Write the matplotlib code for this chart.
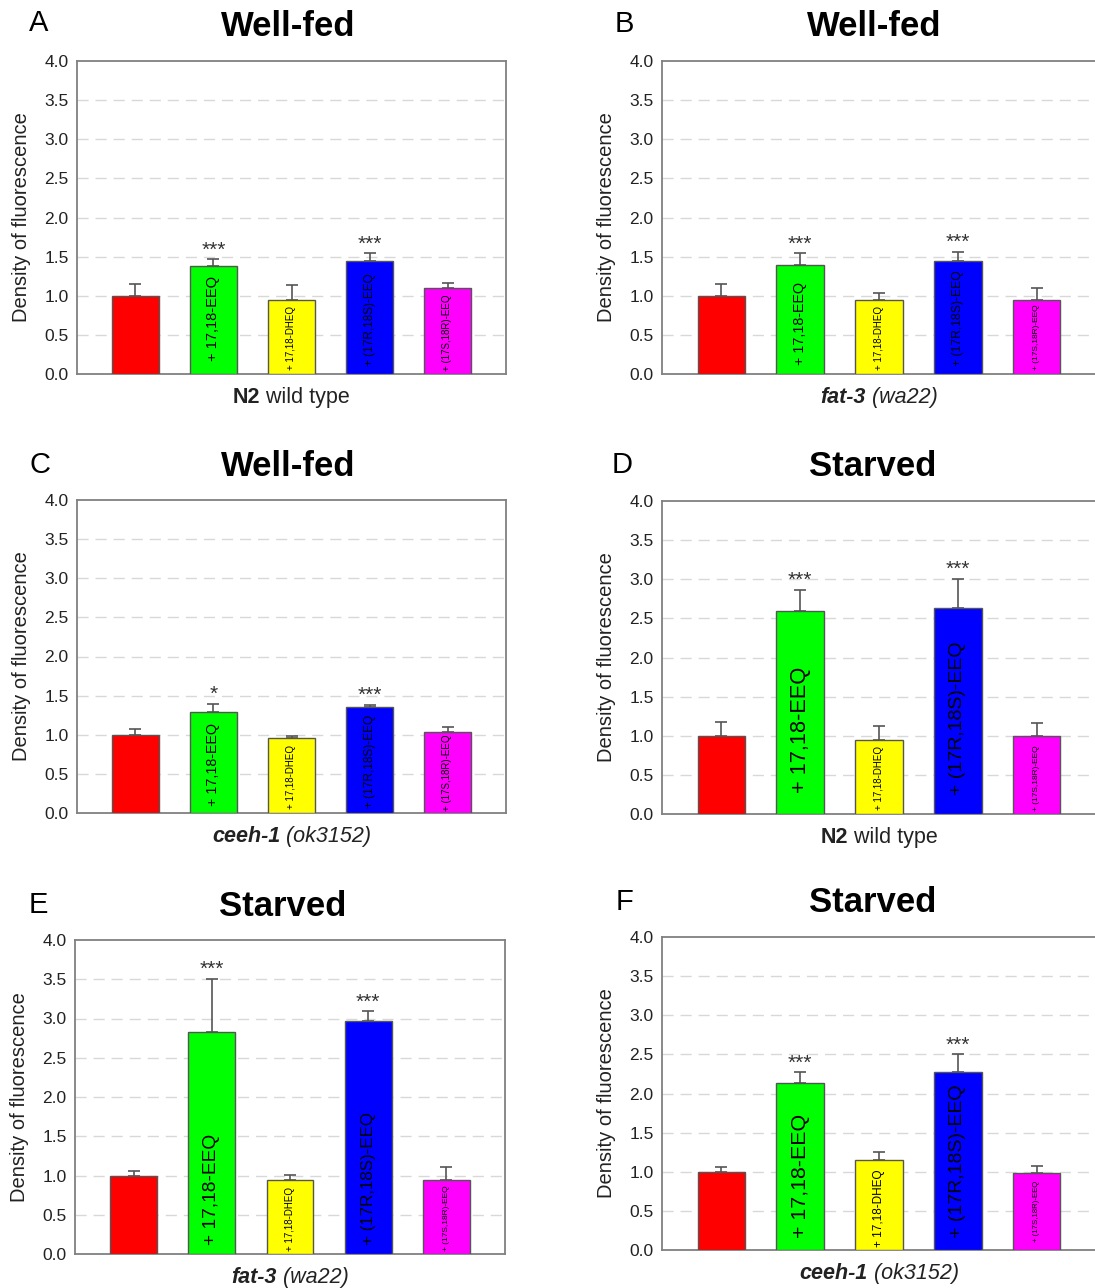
import matplotlib
matplotlib.use('Agg')
import matplotlib.pyplot as plt
from matplotlib.offsetbox import TextArea, HPacker, AnchoredOffsetbox
import numpy as np

plt.rcParams['font.family'] = ['Liberation Sans', 'DejaVu Sans']

# treatment groups (control first)
bar_labels = ['', '+ 17,18-EEQ', '+ 17,18-DHEQ', '+ (17R,18S)-EEQ', '+ (17S,18R)-EEQ']
bar_colors = ['#ff0000', '#00ff00', '#ffff00', '#0000ff', '#ff00ff']

# mean density of fluorescence and SEM per panel
values_a = [1.00, 1.38, 0.95, 1.44, 1.10]
err_a = [0.15, 0.085, 0.19, 0.10, 0.06]
values_b = [1.00, 1.39, 0.95, 1.44, 0.95]
err_b = [0.15, 0.15, 0.08, 0.12, 0.15]
values_c = [1.00, 1.29, 0.96, 1.36, 1.03]
err_c = [0.07, 0.10, 0.03, 0.02, 0.07]
values_d = [1.00, 2.60, 0.95, 2.63, 1.00]
err_d = [0.17, 0.26, 0.18, 0.37, 0.16]
values_e = [1.00, 2.83, 0.94, 2.97, 0.94]
err_e = [0.06, 0.67, 0.07, 0.12, 0.17]
values_f = [1.00, 2.14, 1.15, 2.28, 0.99]
err_f = [0.06, 0.13, 0.10, 0.22, 0.08]

stars_a = ['', '***', '', '***', '']
stars_b = ['', '***', '', '***', '']
stars_c = ['', '*', '', '***', '']
stars_d = ['', '***', '', '***', '']
stars_e = ['', '***', '', '***', '']
stars_f = ['', '***', '', '***', '']

letters = ['A', 'B', 'C', 'D', 'E', 'F']
titles = ['Well-fed', 'Well-fed', 'Well-fed', 'Starved', 'Starved', 'Starved']
# strain label pieces: (text, weight, style)
strains = [
    [('N2', 'bold', 'normal'), (' wild type', 'normal', 'normal')],
    [('fat-3', 'bold', 'italic'), (' (wa22)', 'normal', 'italic')],
    [('ceeh-1', 'bold', 'italic'), (' (ok3152)', 'normal', 'italic')],
    [('N2', 'bold', 'normal'), (' wild type', 'normal', 'normal')],
    [('fat-3', 'bold', 'italic'), (' (wa22)', 'normal', 'italic')],
    [('ceeh-1', 'bold', 'italic'), (' (ok3152)', 'normal', 'italic')],
]

panels = [
    (values_a, err_a, stars_a), (values_b, err_b, stars_b),
    (values_c, err_c, stars_c), (values_d, err_d, stars_d),
    (values_e, err_e, stars_e), (values_f, err_f, stars_f),
]

# layout in pixels: left, top, right, bottom
W, H = 1095, 1288
boxes = [
    (77, 61, 506, 374), (662, 61, 1096, 374),
    (77, 500, 506, 813), (662, 501, 1096, 814),
    (75, 940, 505, 1254), (662, 937, 1096, 1250),
]
letter_pos = [(39, 23), (624, 24), (40, 465), (622, 465), (38, 905), (625, 902)]
title_pos = [(288, 26), (874, 26), (288, 466), (873, 466), (283, 906), (873, 903)]

# in-bar label sizes and their lift above the baseline (px)
label_sizes = [
    [0, 10.5, 7, 8.5, 7], [0, 10.3, 7, 8.7, 6], [0, 10.3, 7, 8.6, 7],
    [0, 15.7, 7, 14, 6], [0, 13.8, 7, 12.2, 6], [0, 15.4, 8.5, 14, 5.6],
]
label_lift = [
    [0, 12.7, 4.3, 7.7, 2.7], [0, 9.3, 4.3, 7.7, 3.7], [0, 6.7, 4, 5, 1.7],
    [0, 21, 3.7, 19.3, 2.7], [0, 9, 3.3, 9, 3.3], [0, 11.7, 3.3, 11.7, 8.3],
]

fig = plt.figure(figsize=(W / 100, H / 100), dpi=100)
x = np.arange(5)

for i, (vals, errs, stars) in enumerate(panels):
    l, t, r, b = boxes[i]
    ax = fig.add_axes([l / W, 1 - b / H, (r - l) / W, (b - t) / H])
    ax.bar(x, vals, 0.6, color=bar_colors, edgecolor='#555555', linewidth=1, zorder=3)
    ax.errorbar(x, vals, yerr=[np.zeros(5), errs], fmt='none', ecolor='#555555',
                elinewidth=1.2, capsize=4.5, capthick=1.2, zorder=4)
    ax.set_xlim(-0.75, 4.75)
    ax.set_ylim(0, 4)
    ax.set_yticks(np.arange(0, 4.01, 0.5))
    ax.set_yticklabels(['%.1f' % v for v in np.arange(0, 4.01, 0.5)], fontsize=12.5, color='#222222')
    ax.set_xticks([])
    ax.tick_params(axis='y', length=0, pad=6)
    for yv in np.arange(0.5, 3.6, 0.5):
        ax.axhline(yv, color='#d8d8d8', linestyle=(0, (8, 5)), linewidth=1, zorder=1)
    for sp in ax.spines.values():
        sp.set_color('#808080')
        sp.set_linewidth(1.3)
    ax.set_ylabel('Density of fluorescence', fontsize=14.5, color='#222222')
    ax.yaxis.set_label_coords(-46 / (r - l), 0.5)

    for j in range(5):
        if bar_labels[j]:
            ax.annotate(bar_labels[j], (x[j], 0), xytext=(0, label_lift[i][j] * 0.72),
                        textcoords='offset points', rotation=90, ha='center', va='bottom',
                        fontsize=label_sizes[i][j], color='black', zorder=5)
        if stars[j]:
            ax.annotate(stars[j], (x[j], vals[j] + errs[j]), xytext=(0, 0),
                        textcoords='offset points', ha='center', va='bottom',
                        fontsize=15, color='#333333', zorder=5)

    # strain name under the axis
    parts = [TextArea(s, textprops=dict(fontsize=15.5, fontweight=fw, fontstyle=fs, color='#222222'))
             for s, fw, fs in strains[i]]
    box = HPacker(children=parts, align='baseline', pad=0, sep=0)
    anchored = AnchoredOffsetbox(loc='upper center', child=box, frameon=False,
                                 bbox_to_anchor=(0.5, -0.042), bbox_transform=ax.transAxes,
                                 borderpad=0, pad=0)
    ax.add_artist(anchored)

    fig.text(letter_pos[i][0] / W, 1 - letter_pos[i][1] / H, letters[i], fontsize=21,
             ha='center', va='center')
    fig.text(title_pos[i][0] / W, 1 - title_pos[i][1] / H, titles[i], fontsize=25,
             fontweight='bold', ha='center', va='center')

fig.savefig('out.png', dpi=100)
